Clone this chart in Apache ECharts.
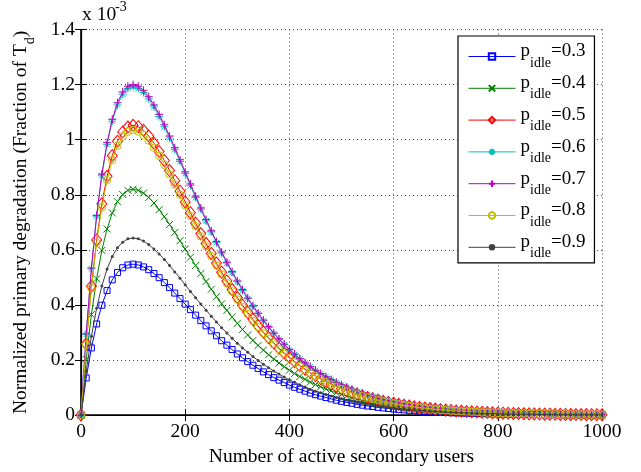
<!DOCTYPE html>
<html>
<head>
<meta charset="utf-8">
<script src="https://cdn.jsdelivr.net/npm/echarts@6/dist/echarts.min.js"></script>
<style>
html,body{margin:0;padding:0;background:#fff;}
#c{width:641px;height:472px;}
</style>
</head>
<body>
<div id="c"></div>
<script>
// Number of active secondary users (x samples)
var users = [0,10,20,30,40,50,60,70,80,90,100,110,120,130,140,150,160,170,180,190,200,210,220,230,240,250,260,270,280,290,300,310,320,330,340,350,360,370,380,390,400,410,420,430,440,450,460,470,480,490,500,510,520,530,540,550,560,570,580,590,600,610,620,630,640,650,660,670,680,690,700,710,720,730,740,750,760,770,780,790,800,810,820,830,840,850,860,870,880,890,900,910,920,930,940,950,960,970,980,990,1000];

// Normalized primary degradation (x 10^-3) per p_idle
var p03 = [0,.135,.244,.331,.399,.452,.491,.518,.535,.545,.548, .545,.538,.528,.514,.499,.481,.463,.443,.423,.403, .383,.363,.343,.324,.306,.288,.270,.254,.238,.222, .208,.194,.181,.169,.157,.147,.136,.127,.118,.109, .101,.094,.087,.080,.074,.069,.064,.059,.054,.050, .046,.043,.039,.036,.033,.031,.028,.026,.024,.022, .020,.019,.017,.016,.015,.013,.012,.011,.010,.0095, .0087,.0080,.0073,.0067,.0062,.0057,.0052,.0048,.0044,.0040, .0037,.0034,.0031,.0028,.0026,.0024,.0022,.0020,.0018,.0017, .0015,.0014,.0013,.0012,.0011,.0010,.0009,.0008,.0007,.0007];
var p04 = [0,.202,.365,.495,.598,.676,.734,.775,.801,.816,.820, .816,.806,.790,.770,.746,.720,.692,.663,.633,.603, .573,.543,.514,.485,.457,.430,.404,.380,.356,.333, .311,.291,.271,.253,.236,.219,.204,.189,.176,.163, .151,.140,.130,.120,.111,.103,.095,.088,.081,.075, .069,.064,.059,.054,.050,.046,.043,.039,.036,.033, .030,.028,.026,.024,.022,.020,.018,.017,.015,.014, .013,.012,.011,.010,.0092,.0085,.0078,.0071,.0065,.0060, .0055,.0050,.0046,.0042,.0039,.0035,.0032,.0030,.0027,.0025, .0023,.0021,.0019,.0017,.0016,.0015,.0013,.0012,.0011,.0010];
var p05 = [0,.259,.468,.636,.767,.867,.942,.994,1.028,1.046,1.052, 1.047,1.034,1.013,.987,.957,.924,.888,.851,.813,.774, .735,.697,.659,.623,.587,.552,.519,.487,.456,.427, .399,.373,.348,.324,.302,.281,.262,.243,.226,.210, .194,.180,.167,.154,.143,.132,.122,.113,.104,.096, .089,.082,.076,.070,.064,.059,.055,.050,.046,.043, .039,.036,.033,.030,.028,.026,.024,.022,.020,.018, .017,.015,.014,.013,.012,.011,.010,.0091,.0084,.0077, .0070,.0064,.0059,.0054,.0049,.0045,.0041,.0038,.0035,.0032, .0029,.0027,.0024,.0022,.0020,.0019,.0017,.0016,.0014,.0013];
var p06 = [0,.293,.531,.720,.869,.983,1.067,1.126,1.165,1.186,1.192, 1.186,1.171,1.148,1.119,1.084,1.047,1.006,.964,.921,.877, .833,.790,.747,.705,.665,.626,.588,.552,.517,.484, .452,.423,.394,.368,.342,.319,.296,.275,.256,.237, .220,.204,.189,.175,.162,.150,.139,.128,.118,.109, .101,.093,.086,.079,.073,.067,.062,.057,.052,.048, .044,.041,.037,.034,.032,.029,.027,.025,.023,.021, .019,.017,.016,.015,.013,.012,.011,.010,.0095,.0087, .0080,.0073,.0067,.0061,.0056,.0051,.0047,.0043,.0039,.0036, .0033,.0030,.0028,.0025,.0023,.0021,.0019,.0018,.0016,.0015];
var p07 = [0,.295,.534,.725,.875,.989,1.074,1.134,1.173,1.194,1.200, 1.194,1.179,1.156,1.126,1.092,1.054,1.013,.971,.927,.883, .839,.795,.752,.710,.669,.630,.592,.555,.521,.487, .456,.425,.397,.370,.345,.321,.298,.277,.258,.239, .222,.205,.190,.176,.163,.151,.139,.129,.119,.110, .101,.094,.086,.080,.073,.068,.062,.057,.053,.049, .045,.041,.038,.035,.032,.029,.027,.025,.023,.021, .019,.018,.016,.015,.014,.012,.011,.010,.0096,.0088, .0080,.0073,.0067,.0062,.0056,.0052,.0047,.0043,.0040,.0036, .0033,.0030,.0028,.0025,.0023,.0021,.0019,.0018,.0016,.0015];
var p08 = [0,.255,.461,.625,.754,.853,.926,.978,1.011,1.029,1.035, 1.030,1.017,.997,.971,.942,.909,.874,.837,.800,.762, .723,.686,.649,.613,.577,.543,.511,.479,.449,.420, .393,.367,.342,.319,.297,.277,.257,.239,.222,.206, .191,.177,.164,.152,.141,.130,.120,.111,.103,.095, .087,.081,.074,.069,.063,.058,.054,.049,.045,.042, .038,.035,.033,.030,.027,.025,.023,.021,.020,.018, .016,.015,.014,.013,.012,.011,.0098,.0090,.0082,.0076, .0069,.0063,.0058,.0053,.0049,.0045,.0041,.0037,.0034,.0031, .0029,.0026,.0024,.0022,.0020,.0018,.0017,.0015,.0014,.0013];
var p09 = [0,.158,.286,.388,.469,.530,.576,.608,.628,.640,.643, .640,.632,.619,.603,.585,.565,.543,.520,.497,.473, .449,.426,.403,.381,.359,.338,.317,.298,.279,.261, .244,.228,.213,.198,.185,.172,.160,.149,.138,.128, .119,.110,.102,.094,.087,.081,.075,.069,.064,.059, .054,.050,.046,.043,.039,.036,.033,.031,.028,.026, .024,.022,.020,.019,.017,.016,.014,.013,.012,.011, .010,.0094,.0086,.0079,.0073,.0066,.0061,.0056,.0051,.0047, .0043,.0039,.0036,.0033,.0030,.0028,.0025,.0023,.0021,.0019, .0018,.0016,.0015,.0014,.0012,.0011,.0010,.0010,.0009,.0008];

var idleLabels = ['0.3','0.4','0.5','0.6','0.7','0.8','0.9'];
var seriesValues = [p03,p04,p05,p06,p07,p08,p09];
var xTickLabels = ['0','200','400','600','800','1000'];
var yTickLabels = ['0','0.2','0.4','0.6','0.8','1','1.2','1.4'];

var FONT = 'Liberation Serif';
var colors = ['#0000ff','#008000','#ff0000','#00bfbf','#bf00bf','#bfbf00','#404040'];
var symbols = [
  'rect',
  'path://M0,0L10,10M10,0L0,10',
  'diamond',
  'path://M5,0L5,10M0,5L10,5M1.5,1.5L8.5,8.5M8.5,1.5L1.5,8.5',
  'path://M5,0L5,10M0,5L10,5',
  'circle',
  'circle'
];
var sizes = [6, 7, [10,12], 8, 8, 7.5, 3];

var series = seriesValues.map(function(vals, k){
  var c = colors[k];
  var filled = (k === 6);
  return {
    name: 'p_idle=' + idleLabels[k],
    type: 'line',
    data: users.map(function(x, i){ return [x, vals[i]]; }),
    symbol: symbols[k],
    symbolSize: sizes[k],
    showAllSymbol: true,
    lineStyle: {color: c, width: 1},
    itemStyle: {color: filled ? c : 'transparent', borderColor: c, borderWidth: filled ? 0 : 1},
    emphasis: {disabled: true},
    z: 2 + k
  };
});

var chart = echarts.init(document.getElementById('c'), null, {renderer: 'canvas'});
chart.setOption({
  animation: false,
  backgroundColor: '#fff',
  grid: {left: 81, right: 39, top: 29.5, bottom: 53, containLabel: false},
  xAxis: [{
    type: 'value', min: 0, max: 1000, interval: 200, position: 'bottom',
    axisLine: {show: true, lineStyle: {color: '#000', width: 1.6}},
    axisTick: {show: true, inside: true, length: 6, lineStyle: {color: '#000', width: 1}},
    axisLabel: {color: '#000', fontFamily: FONT, fontSize: 19.5, margin: 7,
      formatter: function(v){ return xTickLabels[Math.round(v/200)]; }},
    splitLine: {show: true, lineStyle: {color: '#444', width: 1, type: [1, 3]}},
    name: 'Number of active secondary users', nameLocation: 'middle', nameGap: 24,
    nameTextStyle: {color: '#000', fontFamily: FONT, fontSize: 19.5}
  }, {
    type: 'value', min: 0, max: 1000, interval: 200, position: 'top',
    axisLine: {show: true, lineStyle: {color: '#000', width: 1.2}},
    axisTick: {show: true, inside: true, length: 6, lineStyle: {color: '#000', width: 1}},
    axisLabel: {show: false}, splitLine: {show: false}
  }],
  yAxis: [{
    type: 'value', min: 0, max: 1.4, interval: 0.2, position: 'left',
    axisLine: {show: true, lineStyle: {color: '#000', width: 1.6}},
    axisTick: {show: true, inside: true, length: 6, lineStyle: {color: '#000', width: 1}},
    axisLabel: {color: '#000', fontFamily: FONT, fontSize: 19.5, margin: 6,
      formatter: function(v){ return yTickLabels[Math.round(v/0.2)]; }},
    splitLine: {show: true, lineStyle: {color: '#444', width: 1, type: [1, 3]}},
    name: '{a|Normalized primary degradation (Fraction of T}{b|d}{a|)}',
    nameLocation: 'middle', nameGap: 42, nameRotate: 90,
    nameTextStyle: {color: '#000', fontFamily: FONT, fontSize: 19.5,
      rich: {
        a: {fontFamily: FONT, fontSize: 19.5, color: '#000', padding: [0,0,8,0]},
        b: {fontFamily: FONT, fontSize: 14, color: '#000', padding: [11,0,0,0]}
      }}
  }, {
    type: 'value', min: 0, max: 1.4, interval: 0.2, position: 'right',
    axisLine: {show: true, lineStyle: {color: '#000', width: 1.2}},
    axisTick: {show: true, inside: true, length: 6, lineStyle: {color: '#000', width: 1}},
    axisLabel: {show: false}, splitLine: {show: false}
  }],
  legend: {
    orient: 'vertical', left: 458, top: 36,
    padding: [6, 9, 2, 10], itemGap: 3.8, itemWidth: 47, itemHeight: 8,
    backgroundColor: '#fff', borderColor: '#000', borderWidth: 1.2, borderRadius: 0,
    lineStyle: {width: 1},
    data: series.map(function(s){ return s.name; }),
    formatter: function(name){ return '{a|p}{b|idle}{a|=' + name.split('=')[1] + '}'; },
    textStyle: {color: '#000', fontFamily: FONT, fontSize: 19,
      rich: {
        a: {fontFamily: FONT, fontSize: 19, color: '#000', padding: [0,0,10,0]},
        b: {fontFamily: FONT, fontSize: 14, color: '#000', padding: [13,0,0,0]}
      }}
  },
  graphic: [
    {type: 'text', left: 82, top: 5, style: {text: 'x 10', fill: '#000', font: '19.5px "Liberation Serif"'}},
    {type: 'text', left: 115, top: 0, style: {text: '-3', fill: '#000', font: '14px "Liberation Serif"'}}
  ],
  series: series
});
</script>
</body>
</html>
